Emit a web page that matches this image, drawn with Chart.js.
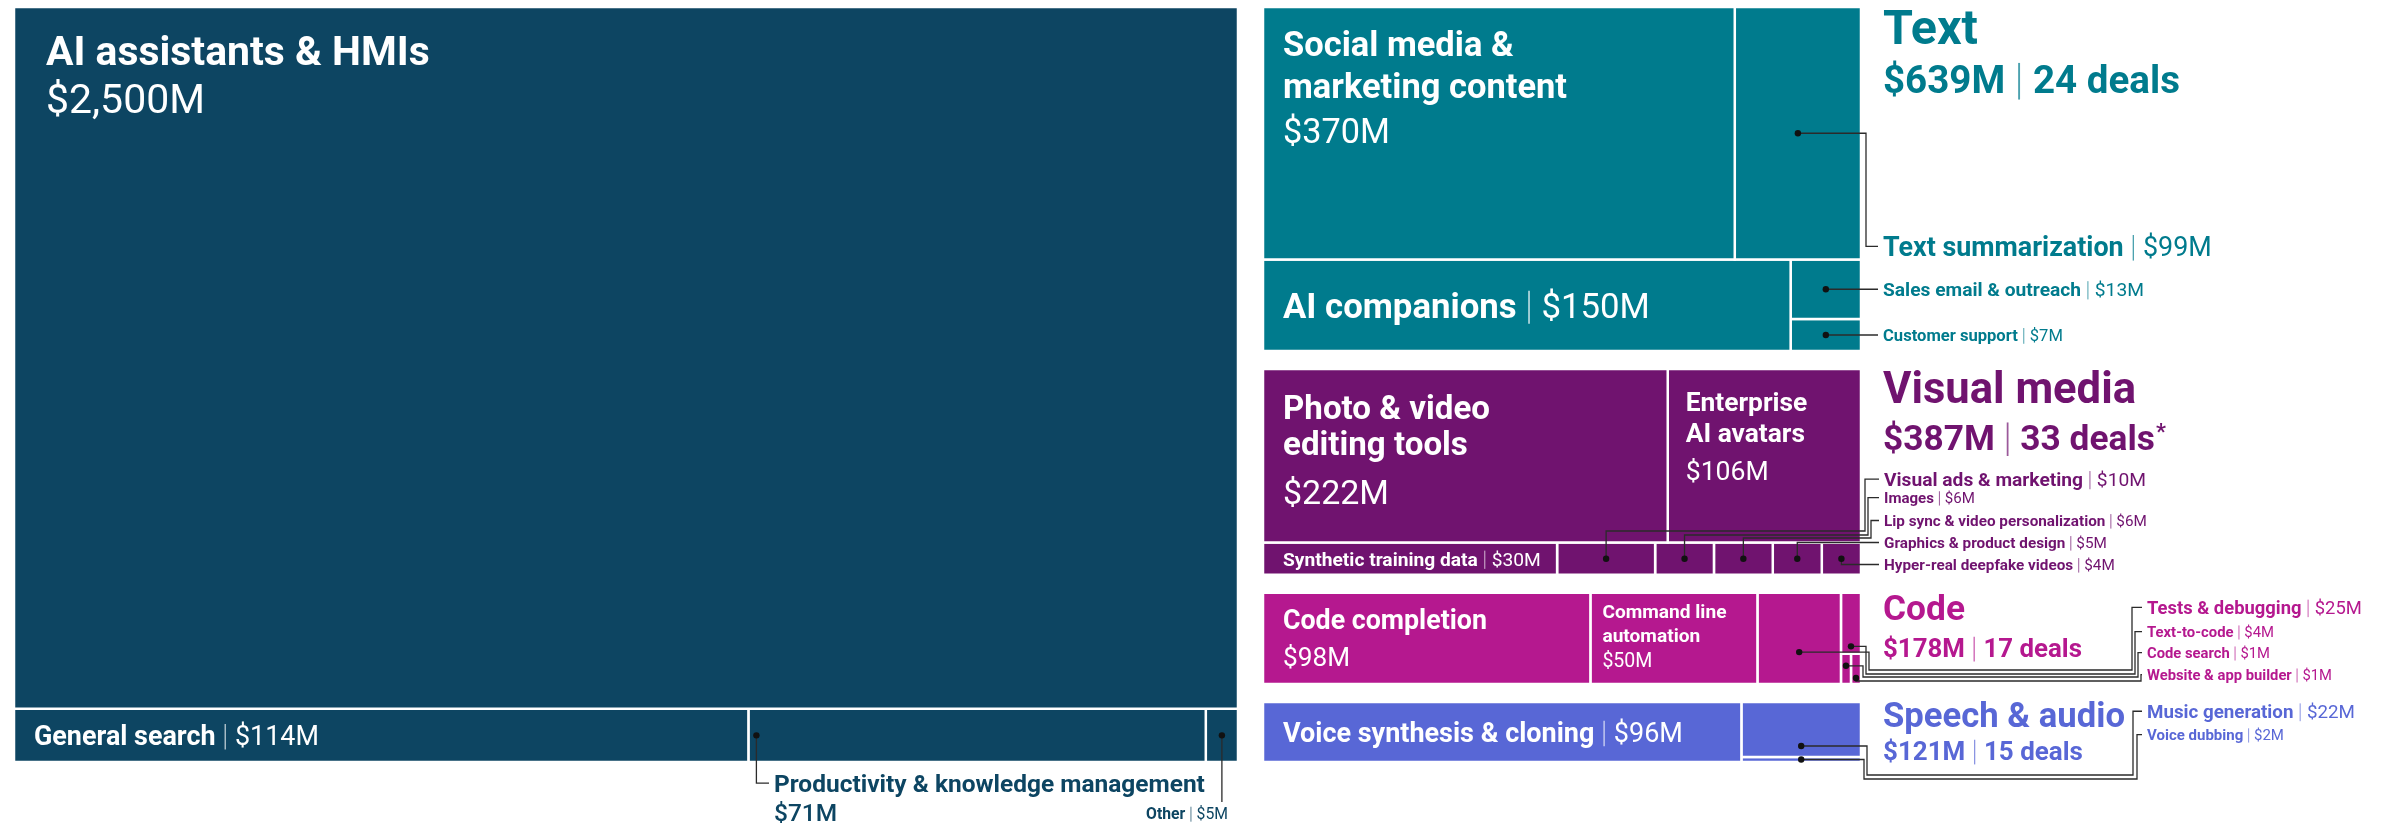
<!DOCTYPE html>
<html><head><meta charset="utf-8">
<script src="https://cdn.jsdelivr.net/npm/chart.js@4.4.1/dist/chart.umd.min.js"></script>
<style>html,body{margin:0;padding:0;background:#fff;overflow:hidden}#wrap{width:2407px;height:826px}</style>
</head><body><div id="wrap"><canvas id="c" width="2407" height="826"></canvas></div>
<script>
// ---------------- DATA ----------------
const leftCategories = ['AI assistants & HMIs', 'General search', 'Productivity & knowledge management', 'Other'];
const leftValues = [2500, 114, 71, 5];
const textCategories = ['Social media & marketing content', 'Text summarization', 'AI companions', 'Sales email & outreach', 'Customer support'];
const textValues = [370, 99, 150, 13, 7];
const visualCategories = ['Photo & video editing tools', 'Enterprise AI avatars', 'Synthetic training data', 'Visual ads & marketing', 'Images', 'Lip sync & video personalization', 'Graphics & product design', 'Hyper-real deepfake videos'];
const visualValues = [222, 106, 30, 10, 6, 6, 5, 4];
const codeCategories = ['Code completion', 'Command line automation', 'Tests & debugging', 'Text-to-code', 'Code search', 'Website & app builder'];
const codeValues = [98, 50, 25, 4, 1, 1];
const speechCategories = ['Voice synthesis & cloning', 'Music generation', 'Voice dubbing'];
const speechValues = [96, 22, 2];
const groupNames = ['Text', 'Visual media', 'Code', 'Speech & audio'];
const groupTotals = [639, 387, 178, 121];
const groupDeals = [24, 33, 17, 15];
const groupNotes = ['', '*', '', ''];

// ---------------- LAYOUT / STYLE ----------------
const W = 2407, H = 826;
const FONT = 'Roboto, "Noto Sans", sans-serif';
const R = (...k) => ({dir: 'row', kids: k});
const C = (...k) => ({dir: 'col', kids: k});
const GROUPS = {
  left:   {cats: leftCategories,   vals: leftValues,   color: '#0d4562', tree: C(0, R(1, 2, 3))},
  text:   {cats: textCategories,   vals: textValues,   color: '#007b8d', tree: C(R(0, 1), R(2, C(3, 4)))},
  visual: {cats: visualCategories, vals: visualValues, color: '#70136f', tree: C(R(0, 1), R(2, 3, 4, 5, 6, 7))},
  code:   {cats: codeCategories,   vals: codeValues,   color: '#b5188f', tree: R(0, 1, 2, C(3, R(4, 5)))},
  speech: {cats: speechCategories, vals: speechValues, color: '#5867d6', tree: R(0, C(1, 2))}
};
const RIGHT_KEYS = ['text', 'visual', 'code', 'speech'];
const LEFT_FRAME = {x0: 14, x1: 1238, y0: 7, y1: 762};
const RIGHT_FRAME = {x0: 1263, x1: 1861, y0: 7, y1: 762, gap: 18, inset: 6.4};
const NAME_W = 700;

function sumNode(n, v) { return typeof n === 'number' ? v[n] : n.kids.reduce((s, k) => s + sumNode(k, v), 0); }
function layout(n, v, b, out) {
  if (typeof n === 'number') { out[n] = b; return; }
  const tot = sumNode(n, v);
  let p = n.dir === 'row' ? b.x0 : b.y0;
  for (const k of n.kids) {
    const f = sumNode(k, v) / tot;
    if (n.dir === 'row') { const w = (b.x1 - b.x0) * f; layout(k, v, {x0: p, x1: p + w, y0: b.y0, y1: b.y1}, out); p += w; }
    else { const h = (b.y1 - b.y0) * f; layout(k, v, {x0: b.x0, x1: b.x1, y0: p, y1: p + h}, out); p += h; }
  }
}
GROUPS.left.frame = LEFT_FRAME;
(function () {
  const sumT = groupTotals.reduce((a, b) => a + b, 0);
  const avail = (RIGHT_FRAME.y1 - RIGHT_FRAME.y0) - RIGHT_FRAME.gap * (groupTotals.length - 1) + RIGHT_FRAME.inset * groupTotals.length;
  const k = avail / sumT;
  let y = RIGHT_FRAME.y0;
  RIGHT_KEYS.forEach((key, i) => {
    const h = k * groupTotals[i] - RIGHT_FRAME.inset;
    GROUPS[key].frame = {x0: RIGHT_FRAME.x0, x1: RIGHT_FRAME.x1, y0: y, y1: y + h};
    y += h + RIGHT_FRAME.gap;
  });
})();

const datasets = [];
for (const key of Object.keys(GROUPS)) {
  const g = GROUPS[key];
  g.rects = [];
  layout(g.tree, g.vals, g.frame, g.rects);
  g.rects.forEach((r, i) => datasets.push({
    label: g.cats[i],
    data: [{x: r.x0, y: r.y0}, {x: r.x1, y: r.y0}, {x: r.x1, y: r.y1}, {x: r.x0, y: r.y1}, {x: r.x0, y: r.y0}],
    showLine: true, fill: 'shape', backgroundColor: g.color, borderColor: '#ffffff', borderWidth: 2.5,
    borderJoinStyle: 'miter', pointRadius: 0, pointHoverRadius: 0, tension: 0
  }));
}

const fmt = v => '$' + v.toLocaleString('en-US') + 'M';

// inner labels: offsets relative to the cell, fit = text widths in px
const INNER = [
  {g: 'left', i: 0, dx: 32, split: 0, base: [58], vbase: 106, fit: [384], vfit: 159},
  {g: 'left', i: 1, dx: 20, pair: true, fit: 285},
  {g: 'text', i: 0, dx: 20, split: 3, base: [49, 91], vbase: 136, fit: [230, 285], vfit: 107},
  {g: 'text', i: 2, dx: 20, pair: true, fit: 367},
  {g: 'visual', i: 0, dx: 20, split: 3, base: [50, 86], vbase: 135, fit: [207, 185], vfit: 106},
  {g: 'visual', i: 1, dx: 18, split: 1, base: [42, 73], vbase: 111, fit: [122, 119], vfit: 83},
  {g: 'visual', i: 2, dx: 20, pair: true, fit: 258},
  {g: 'code', i: 0, dx: 20, split: 0, base: [36], vbase: 73, fit: [204], vfit: 67},
  {g: 'code', i: 1, dx: 12, split: 2, base: [25, 49], vbase: 74, fit: [124, 98], vfit: 50},
  {g: 'speech', i: 0, dx: 20, pair: true, fit: 400}
];
// call-out labels
const OUTER = [
  {g: 'left', i: 2, lx: 774, base: 792, fit: 431, stack: true, dot: {dx: 8, fy: 0.5}, path: [['vL'], ['hL']]},
  {g: 'left', i: 3, lx: 1228, base: 819, fit: 82, align: 'right', path: [['v', 802]]},
  {g: 'text', i: 1, lx: 1883, base: 256, fit: 329, path: [['h', 1866], ['vL'], ['hL']]},
  {g: 'text', i: 3, lx: 1883, base: 'dot', fit: 261, path: [['hL']]},
  {g: 'text', i: 4, lx: 1883, base: 'dot', fit: 180, path: [['hL']]},
  {g: 'visual', i: 3, lx: 1884, base: 486, fit: 262, path: [['v', 531], ['h', 1865], ['vL'], ['hL']]},
  {g: 'visual', i: 4, lx: 1884, base: 503, fit: 91, path: [['v', 535], ['h', 1868], ['vL'], ['hL']]},
  {g: 'visual', i: 5, lx: 1884, base: 526, fit: 263, path: [['v', 538], ['h', 1871], ['vL'], ['hL']]},
  {g: 'visual', i: 6, lx: 1884, base: 548, fit: 223, path: [['vL'], ['hL']]},
  {g: 'visual', i: 7, lx: 1884, base: 570, fit: 231, path: [['vL'], ['hL']]},
  {g: 'code', i: 2, lx: 2147, base: 614, fit: 215, dot: {fy: 0.65}, path: [['h', 1869], ['v', 670], ['h', 2132], ['vL'], ['hL']]},
  {g: 'code', i: 3, lx: 2147, base: 637, fit: 127, dot: {fy: 0.88}, path: [['h', 1866], ['v', 674], ['h', 2135], ['vL'], ['hL']]},
  {g: 'code', i: 4, lx: 2147, base: 658, fit: 123, dot: {fy: 0.4}, path: [['h', 1863], ['v', 677], ['h', 2138], ['vL'], ['hL']]},
  {g: 'code', i: 5, lx: 2147, base: 680, fit: 185, dot: {fy: 0.8}, path: [['v', 681], ['h', 2141], ['vL'], ['hL']]},
  {g: 'speech', i: 1, lx: 2147, base: 718, fit: 208, dot: {fy: 0.8}, path: [['h', 1867], ['v', 775], ['h', 2133], ['vL'], ['hL']]},
  {g: 'speech', i: 2, lx: 2147, base: 740, fit: 137, path: [['h', 1864], ['v', 779], ['h', 2137], ['vL'], ['hL']]}
];
const TITLES = [
  {g: 'text', x: 1883, base: 44, fit: 95, vbase: 93, vfit: 297},
  {g: 'visual', x: 1883, base: 403, fit: 253, vbase: 450, vfit: 272},
  {g: 'code', x: 1883, base: 620, fit: 82, vbase: 657, vfit: 199},
  {g: 'speech', x: 1883, base: 727, fit: 242, vbase: 760, vfit: 200}
];

const GAP_EM = 0.36;
function font(w, s) { return w + ' ' + s + 'px ' + FONT; }
function textW(ctx, t, w, s) { ctx.font = font(w, s); return ctx.measureText(t).width; }
function fitText(ctx, t, w, target) { return 100 * target / textW(ctx, t, w, 100); }
function fitPair(ctx, name, val, nw, vw, target) {
  const tot = textW(ctx, name, nw, 100) + 2 * GAP_EM * 100 + textW(ctx, val, vw, 100);
  return 100 * target / tot;
}
function drawPair(ctx, x, base, name, val, o) {
  const s = o.size, gap = s * GAP_EM, nw = o.nw || NAME_W, vw = o.vw || 400;
  const wn = textW(ctx, name, nw, s), wv = textW(ctx, val, vw, s);
  const tot = wn + 2 * gap + wv;
  const x0 = o.align === 'right' ? x - tot : x;
  ctx.textAlign = 'left'; ctx.textBaseline = 'alphabetic'; ctx.fillStyle = o.color;
  ctx.font = font(nw, s); ctx.fillText(name, x0, base);
  ctx.save();
  ctx.strokeStyle = o.color; ctx.globalAlpha = 0.7; ctx.lineWidth = Math.max(1, s * 0.05);
  const dx = x0 + wn + gap;
  ctx.beginPath(); ctx.moveTo(dx, base - s * 0.78); ctx.lineTo(dx, base + s * 0.17); ctx.stroke();
  ctx.restore();
  ctx.fillStyle = o.color; ctx.font = font(vw, s); ctx.fillText(val, x0 + wn + 2 * gap, base);
  return x0 + tot;
}

const labelPlugin = {
  id: 'treemapLabels',
  afterDatasetsDraw(chart) {
    const ctx = chart.ctx;
    const X = v => chart.scales.x.getPixelForValue(v);
    const Y = v => chart.scales.y.getPixelForValue(v);
    const box = r => ({x0: X(r.x0), x1: X(r.x1), y0: Y(r.y0), y1: Y(r.y1)});
    ctx.save();
    // inner labels
    for (const L of INNER) {
      const g = GROUPS[L.g], b = box(g.rects[L.i]);
      const name = g.cats[L.i], val = fmt(g.vals[L.i]);
      const x = b.x0 + L.dx;
      if (L.pair) {
        const s = fitPair(ctx, name, val, NAME_W, 400, L.fit);
        const base = (b.y0 + b.y1) / 2 + s * 0.36;
        drawPair(ctx, x, base, name, val, {size: s, color: '#ffffff'});
      } else {
        const words = name.split(' ');
        const lines = L.split ? [words.slice(0, L.split).join(' '), words.slice(L.split).join(' ')] : [name];
        const sizes = lines.map((t, k) => fitText(ctx, t, NAME_W, L.fit[k]));
        const s = sizes.reduce((a, b) => a + b, 0) / sizes.length;
        ctx.fillStyle = '#ffffff'; ctx.textAlign = 'left'; ctx.textBaseline = 'alphabetic';
        ctx.font = font(NAME_W, s);
        lines.forEach((t, k) => ctx.fillText(t, x, b.y0 + L.base[k]));
        ctx.font = font(400, fitText(ctx, val, 400, L.vfit));
        ctx.fillText(val, x, b.y0 + L.vbase);
      }
    }
    // call-outs
    for (const L of OUTER) {
      const g = GROUPS[L.g], b = box(g.rects[L.i]);
      const name = g.cats[L.i], val = fmt(g.vals[L.i]);
      const s = L.stack ? fitText(ctx, name, NAME_W, L.fit) : fitPair(ctx, name, val, NAME_W, 400, L.fit);
      const d = L.dot || {};
      const dx = d.dx !== undefined ? b.x0 + d.dx : b.x0 + (b.x1 - b.x0) * (d.fx !== undefined ? d.fx : 0.5);
      const dy = b.y0 + (b.y1 - b.y0) * (d.fy !== undefined ? d.fy : 0.5);
      const base = L.base === 'dot' ? dy + s * 0.36 : Y(L.base);
      const lx = X(L.lx);
      const mid = base - s * 0.36;
      const pts = [[dx, dy]];
      let cx = dx, cy = dy;
      for (const st of L.path) {
        if (st[0] === 'h') cx = X(st[1]);
        else if (st[0] === 'v') cy = Y(st[1]);
        else if (st[0] === 'vL') cy = mid;
        else if (st[0] === 'hL') cx = lx - 5;
        pts.push([cx, cy]);
      }
      ctx.strokeStyle = '#2b2b2b'; ctx.lineWidth = 1.3; ctx.lineJoin = 'miter';
      ctx.beginPath(); pts.forEach((p, k) => k ? ctx.lineTo(p[0], p[1]) : ctx.moveTo(p[0], p[1])); ctx.stroke();
      ctx.fillStyle = '#111'; ctx.beginPath(); ctx.arc(dx, dy, 3.2, 0, Math.PI * 2); ctx.fill();
      if (L.stack) {
        ctx.fillStyle = g.color; ctx.textAlign = 'left'; ctx.textBaseline = 'alphabetic';
        ctx.font = font(NAME_W, s); ctx.fillText(name, lx, base);
        ctx.font = font(500, s); ctx.fillText(val, lx, base + s * 1.17);
      } else {
        drawPair(ctx, lx, base, name, val, {size: s, color: g.color, align: L.align});
      }
    }
    // group titles
    TITLES.forEach(T => {
      const gi = RIGHT_KEYS.indexOf(T.g);
      const color = GROUPS[T.g].color;
      const ts = fitText(ctx, groupNames[gi], 700, T.fit);
      ctx.fillStyle = color; ctx.textAlign = 'left'; ctx.textBaseline = 'alphabetic';
      ctx.font = font(700, ts); ctx.fillText(groupNames[gi], X(T.x), Y(T.base));
      const v1 = fmt(groupTotals[gi]), v2 = groupDeals[gi] + ' deals';
      const vs = fitPair(ctx, v1, v2, 700, 700, T.vfit);
      const end = drawPair(ctx, X(T.x), Y(T.vbase), v1, v2, {size: vs, color: color, nw: 700, vw: 700});
      if (groupNotes[gi]) {
        ctx.fillStyle = color; ctx.font = font(700, vs * 0.62);
        ctx.fillText(groupNotes[gi], end + 1, Y(T.vbase) - vs * 0.3);
      }
    });
    ctx.restore();
  }
};

new Chart(document.getElementById('c'), {
  type: 'scatter',
  data: {datasets},
  options: {
    responsive: false, animation: false, devicePixelRatio: 1,
    layout: {padding: 0},
    events: [],
    scales: {
      x: {type: 'linear', min: 0, max: W, display: false},
      y: {type: 'linear', min: 0, max: H, reverse: true, display: false}
    },
    plugins: {legend: {display: false}, tooltip: {enabled: false}}
  },
  plugins: [labelPlugin]
});
</script>
</body></html>
